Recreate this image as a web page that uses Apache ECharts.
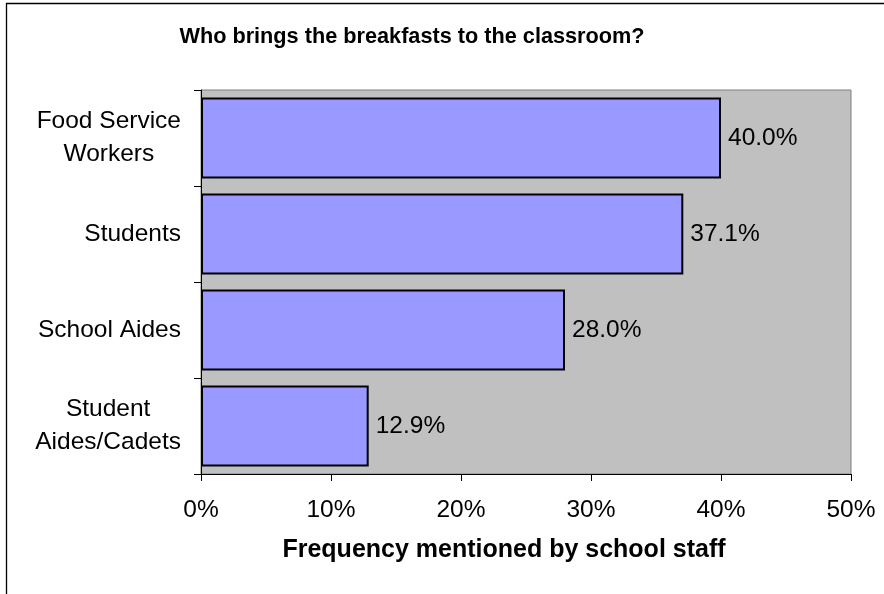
<!DOCTYPE html>
<html>
<head>
<meta charset="utf-8">
<script src="https://cdn.jsdelivr.net/npm/echarts@6/dist/echarts.min.js"></script>
<style>html,body{margin:0;padding:0;background:#fff;}#c{width:884px;height:594px;}</style>
</head>
<body>
<div id="c"></div>
<script>
var categories = ['Food Service\nWorkers', 'Students', 'School Aides', 'Student\nAides/Cadets'];
var values = [40.0, 37.1, 28.0, 12.9];
var xTicks = [0, 10, 20, 30, 40, 50];
var titleText = 'Who brings the breakfasts to the classroom?';
var xAxisTitle = 'Frequency mentioned by school staff';

var FONT = '"Liberation Sans", Arial, sans-serif';
var FS = 24.5;
var chart = echarts.init(document.getElementById('c'), null, {renderer: 'canvas'});
chart.setOption({
  animation: false,
  backgroundColor: '#ffffff',
  grid: {left: 201, top: 90, width: 650, height: 384, show: true, backgroundColor: '#C0C0C0', borderColor: '#808080', borderWidth: 1},
  xAxis: {
    type: 'value', min: xTicks[0], max: xTicks[xTicks.length - 1], interval: 10,
    axisLine: {show: true, lineStyle: {color: '#000', width: 1}},
    axisTick: {show: true, length: 7, lineStyle: {color: '#000'}},
    splitLine: {show: false},
    axisLabel: {margin: 24, fontFamily: FONT, fontSize: FS, color: '#000', formatter: function (v) { return v + '%'; }}
  },
  yAxis: {
    type: 'category', inverse: true, data: categories,
    axisLine: {show: true, lineStyle: {color: '#000', width: 1}},
    axisTick: {show: true, length: 7, alignWithLabel: false, lineStyle: {color: '#000'}},
    axisLabel: {
      margin: 20, color: '#000', fontFamily: FONT, fontSize: FS, lineHeight: 33,
      formatter: function (v) { return v.split('\n').map(function (s) { return '{c|' + s + '}'; }).join('\n'); },
      rich: {c: {align: 'center', fontFamily: FONT, fontSize: FS, lineHeight: 33, color: '#000'}}
    }
  },
  series: [{
    type: 'bar', data: values, barCategoryGap: '15.6%',
    itemStyle: {color: '#9999FF', borderColor: '#000', borderWidth: 2},
    label: {show: true, position: 'right', distance: 7, fontFamily: FONT, fontSize: FS, color: '#000',
      formatter: function (p) { return p.value.toFixed(1) + '%'; }}
  }],
  graphic: [
    {type: 'rect', shape: {x: 6.5, y: 3.5, width: 1000, height: 1000}, style: {fill: 'none', stroke: '#000', lineWidth: 1.3}, silent: true, z: -10},
    {type: 'text', x: 412, y: 37, style: {text: titleText, font: 'bold 21.7px ' + FONT, fill: '#000', textAlign: 'center', textVerticalAlign: 'middle'}},
    {type: 'text', x: 504, y: 550, style: {text: xAxisTitle, font: 'bold 25px ' + FONT, fill: '#000', textAlign: 'center', textVerticalAlign: 'middle'}}
  ]
});
</script>
</body>
</html>
